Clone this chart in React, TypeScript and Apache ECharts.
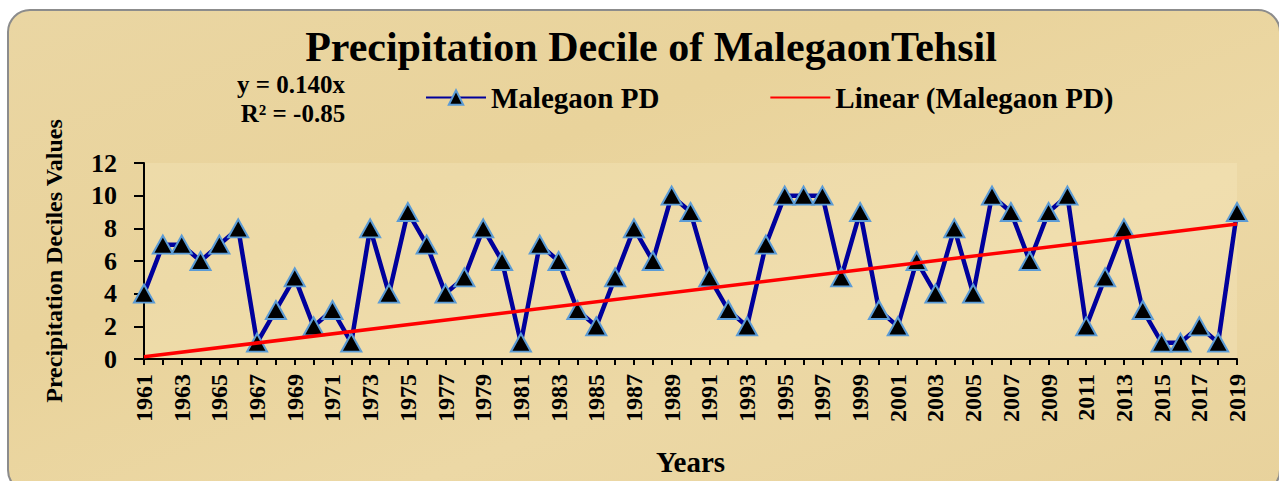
import React, { useEffect, useRef } from "react";
import * as echarts from "echarts";

const years = [
  "1961","1962","1963","1964","1965","1966","1967","1968","1969","1970",
  "1971","1972","1973","1974","1975","1976","1977","1978","1979","1980",
  "1981","1982","1983","1984","1985","1986","1987","1988","1989","1990",
  "1991","1992","1993","1994","1995","1996","1997","1998","1999","2000",
  "2001","2002","2003","2004","2005","2006","2007","2008","2009","2010",
  "2011","2012","2013","2014","2015","2016","2017","2018","2019",
];

const malegaonPD = [
  4, 7, 7, 6, 7, 8, 1, 3, 5, 2,
  3, 1, 8, 4, 9, 7, 4, 5, 8, 6,
  1, 7, 6, 3, 2, 5, 8, 6, 10, 9,
  5, 3, 2, 7, 10, 10, 10, 5, 9, 3,
  2, 6, 4, 8, 4, 10, 9, 6, 9, 10,
  2, 5, 8, 3, 1, 1, 2, 1, 9,
];

const trendYears = ["1961", "2019"];
const trendValues = [0.14, 8.26];

const yTicks = { min: 0, max: 12, interval: 2 };

const titleText = "Precipitation Decile of MalegaonTehsil";
const equationText = "y = 0.140x";
const r2Text = "R\u00B2 = -0.85";
const seriesName = "Malegaon PD";
const trendName = "Linear (Malegaon PD)";

const SERIF = '"Liberation Serif", "Times New Roman", serif';

export default function App() {
  const ref = useRef<HTMLDivElement>(null);

  useEffect(() => {
    if (!ref.current) return;
    const chart = echarts.init(ref.current, undefined, { renderer: "svg" });

    const option: any = {
      animation: false,
      backgroundColor: "#ffffff",
      graphic: [
        {
          type: "rect",
          z: -100,
          silent: true,
          shape: { x: 8, y: 10, width: 1272, height: 482, r: 22 },
          style: {
            fill: new echarts.graphic.LinearGradient(0, 0, 1, 1, [
              { offset: 0, color: "#EAD6A3" },
              { offset: 0.35, color: "#E9D39B" },
              { offset: 0.65, color: "#ECD8A5" },
              { offset: 1, color: "#E8D29C" },
            ]),
            stroke: "#8C8C8C",
            lineWidth: 2,
          },
        },
        {
          type: "text",
          x: 651,
          y: 47,
          silent: true,
          style: {
            text: titleText,
            fontFamily: SERIF,
            fontWeight: "bold",
            fontSize: 42,
            fill: "#000000",
            align: "center",
            verticalAlign: "middle",
          },
        },
        {
          type: "text",
          x: 291,
          y: 84,
          silent: true,
          style: {
            text: equationText,
            fontFamily: SERIF,
            fontWeight: "bold",
            fontSize: 25,
            fill: "#000000",
            align: "center",
            verticalAlign: "middle",
          },
        },
        {
          type: "text",
          x: 293,
          y: 113,
          silent: true,
          style: {
            text: r2Text,
            fontFamily: SERIF,
            fontWeight: "bold",
            fontSize: 25,
            fill: "#000000",
            align: "center",
            verticalAlign: "middle",
          },
        },
      ],
      legend: {
        left: 420,
        top: 78,
        itemWidth: 60,
        itemHeight: 18,
        itemGap: 110,
        data: [
          { name: seriesName },
          { name: trendName, itemStyle: { opacity: 0 } },
        ],
        textStyle: {
          fontFamily: SERIF,
          fontWeight: "bold",
          fontSize: 29,
          color: "#000000",
        },
      },
      grid: {
        left: 144,
        right: 42,
        top: 163,
        bottom: 122,
        show: true,
        backgroundColor: "rgba(250,240,205,0.25)",
        borderWidth: 0,
      },
      xAxis: {
        type: "category",
        data: years,
        boundaryGap: false,
        name: "Years",
        nameLocation: "middle",
        nameGap: 88,
        nameTextStyle: {
          fontFamily: SERIF,
          fontWeight: "bold",
          fontSize: 29,
          color: "#000000",
        },
        axisLine: { show: true, lineStyle: { color: "#000000", width: 2 } },
        axisTick: {
          show: true,
          interval: 0,
          length: 6,
          lineStyle: { color: "#000000", width: 2 },
        },
        axisLabel: {
          interval: 1,
          rotate: 90,
          margin: 15,
          fontFamily: SERIF,
          fontWeight: "bold",
          fontSize: 24,
          color: "#000000",
        },
        splitLine: { show: false },
      },
      yAxis: {
        type: "value",
        min: yTicks.min,
        max: yTicks.max,
        interval: yTicks.interval,
        name: "Precipitation Deciles Values",
        nameLocation: "middle",
        nameGap: 78,
        nameTextStyle: {
          fontFamily: SERIF,
          fontWeight: "bold",
          fontSize: 24,
          color: "#000000",
        },
        axisLine: { show: true, lineStyle: { color: "#000000", width: 2 } },
        axisTick: {
          show: true,
          inside: false,
          length: 10,
          lineStyle: { color: "#000000", width: 2 },
        },
        axisLabel: {
          margin: 27,
          fontFamily: SERIF,
          fontWeight: "bold",
          fontSize: 26,
          color: "#000000",
        },
        splitLine: { show: false },
      },
      series: [
        {
          name: seriesName,
          type: "line",
          data: malegaonPD,
          z: 3,
          symbol: "triangle",
          symbolSize: [20, 18],
          showAllSymbol: true,
          lineStyle: { color: "#00009C", width: 4.5 },
          itemStyle: { color: "#000000", borderColor: "#5B9BD5", borderWidth: 2 },
        },
        {
          name: trendName,
          type: "line",
          data: trendYears.map((y, i) => [y, trendValues[i]]),
          z: 4,
          symbol: "none",
          lineStyle: { color: "#FF0000", width: 3.5 },
          itemStyle: { color: "#FF0000" },
        },
      ],
    };

    chart.setOption(option);
    return () => chart.dispose();
  }, []);

  return (
    <div
      ref={ref}
      style={{ position: "fixed", left: 0, top: 0, width: 1279, height: 481 }}
    />
  );
}
